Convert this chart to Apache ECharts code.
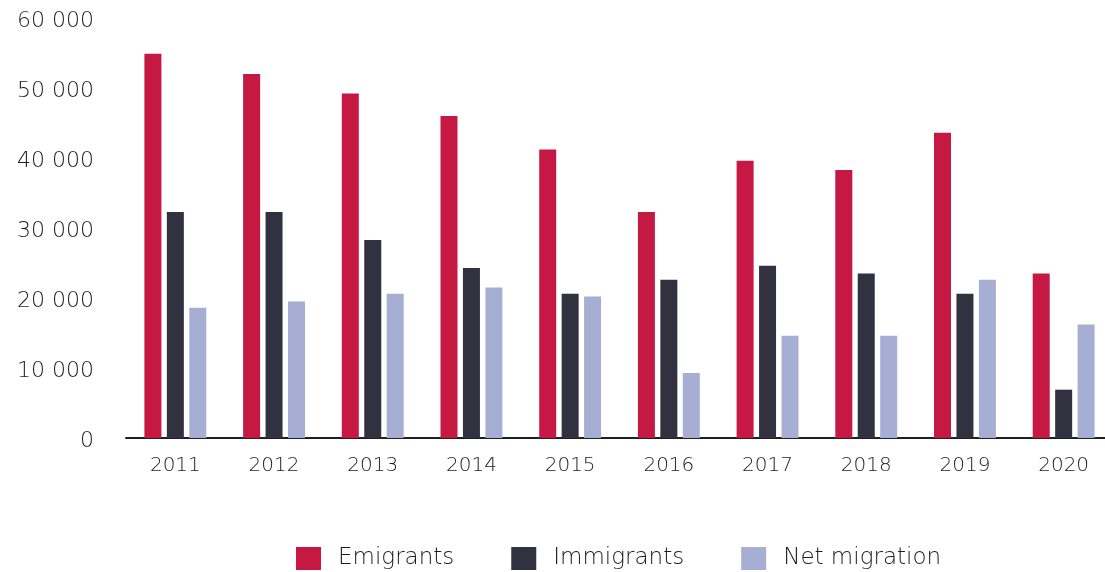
<!DOCTYPE html>
<html>
<head>
<meta charset="utf-8">
<style>
  html, body { margin: 0; padding: 0; background: #ffffff; }
  #chart { width: 1105px; height: 572px; }
</style>
<script src="https://cdn.jsdelivr.net/npm/echarts@6/dist/echarts.min.js"></script>
</head>
<body>
<div id="chart"></div>
<script>
// Migration flows by year
const years = ['2011', '2012', '2013', '2014', '2015', '2016', '2017', '2018', '2019', '2020'];
const emigrants = [54900, 52000, 49200, 46000, 41200, 32300, 39600, 38300, 43600, 23500];
const immigrants = [32300, 32300, 28300, 24300, 20600, 22600, 24600, 23500, 20600, 6900];
const netMigration = [18600, 19500, 20600, 21500, 20200, 9300, 14600, 14600, 22600, 16200];
const yTicks = { min: 0, max: 60000, step: 10000 };

const FONT = '"DejaVu Sans", "Open Sans", sans-serif';
const WEIGHT = 200;
const TEXT = '#1c1b1f';

// thousands separated by a space: 60000 -> "60 000"
function spaced(v) {
  return '{v|' + String(v).replace(/\B(?=(\d{3})+(?!\d))/g, ' ') + '}';
}

const chart = echarts.init(document.getElementById('chart'));

const barBase = { type: 'bar', barWidth: 17, barGap: '32%' };

chart.setOption({
  animation: false,
  grid: { left: 126, top: 18, width: 987, bottom: 134, outerBoundsMode: 'none' },
  legend: {
    top: 547,
    left: 296,
    padding: 0,
    itemWidth: 25,
    itemHeight: 23,
    itemGap: 57,
    icon: 'rect',
    textStyle: {
      fontFamily: FONT, fontWeight: WEIGHT, fontSize: 23, color: TEXT,
      lineHeight: 23,
      padding: [0, 0, 0, 12]
    },
    data: ['Emigrants', 'Immigrants', 'Net migration']
  },
  xAxis: {
    type: 'category',
    data: years,
    axisTick: { show: false },
    axisLine: { show: true, lineStyle: { color: '#1f1f22', width: 2 } },
    axisLabel: {
      margin: 18, fontFamily: FONT, fontWeight: WEIGHT, fontSize: 20, color: TEXT
    }
  },
  yAxis: {
    type: 'value',
    min: yTicks.min,
    max: yTicks.max,
    interval: yTicks.step,
    splitLine: { show: false },
    axisLine: { show: false },
    axisTick: { show: false },
    axisLabel: {
      margin: 32,
      formatter: spaced,
      rich: {
        v: {
          fontFamily: FONT, fontWeight: WEIGHT, fontSize: 22, color: TEXT,
          padding: [7, 0, 0, 0]
        }
      }
    }
  },
  series: [
    Object.assign({ name: 'Emigrants', data: emigrants, itemStyle: { color: '#c51843' } }, barBase),
    Object.assign({ name: 'Immigrants', data: immigrants, itemStyle: { color: '#32313f' } }, barBase),
    Object.assign({ name: 'Net migration', data: netMigration, itemStyle: { color: '#a6aed3' } }, barBase)
  ]
});
</script>
</body>
</html>
